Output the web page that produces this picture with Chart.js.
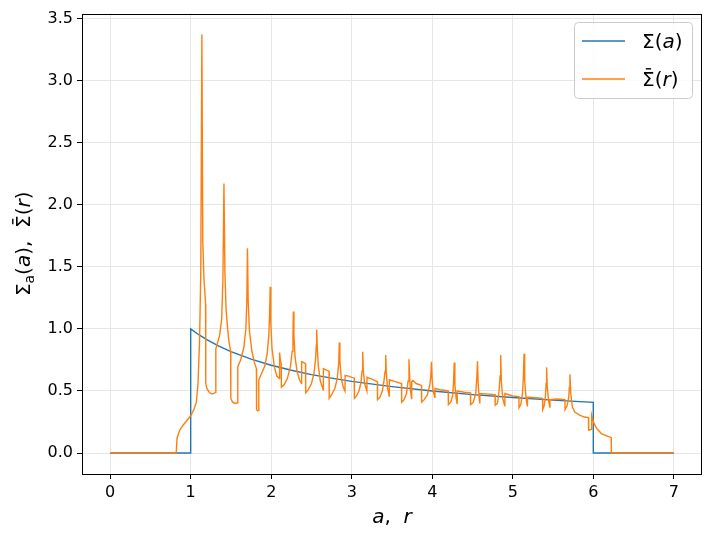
<!DOCTYPE html>
<html><head><meta charset="utf-8">
<script src="https://cdn.jsdelivr.net/npm/chart.js@4/dist/chart.umd.min.js"></script>
<style>html,body{margin:0;padding:0;background:#fff;}</style>
</head><body>
<canvas id="c" width="712" height="537"></canvas>
<script>
// ---- data ----
const xTicks = [0, 1, 2, 3, 4, 5, 6, 7];
const yTicks = [0, 0.5, 1, 1.5, 2, 2.5, 3, 3.5];

// Sigma(a)
const aValues = [0, 1, 1, 1.1, 1.2, 1.35, 1.5, 1.75, 2, 2.25, 2.5, 2.75, 3, 3.5, 4, 4.5, 5, 5.5, 6, 6, 7];
const sigmaA  = [0, 0, 1.0, 0.953, 0.913, 0.861, 0.816, 0.756, 0.707, 0.667, 0.632, 0.603, 0.577, 0.535, 0.5, 0.471, 0.447, 0.426, 0.408, 0, 0];

// Sigma-bar(r): [r, value]
const sigmaBarPoints = [
  [0,0],[0.82,0],[0.83,0.12],[0.86,0.18],[0.90,0.22],[0.95,0.26],[1.00,0.30],[1.04,0.35],[1.07,0.41],
  [1.09,0.55],[1.11,0.9],[1.125,1.45],[1.139,3.37],[1.15,1.7],[1.165,1.4],[1.185,1.2],
  [1.187,0.56],[1.20,0.52],[1.23,0.49],[1.26,0.475],[1.29,0.48],[1.31,0.49],[1.312,0.84],[1.33,0.88],[1.36,0.95],
  [1.385,1.08],[1.40,1.4],[1.413,2.17],[1.425,1.45],[1.44,1.15],[1.46,0.99],[1.475,0.9],[1.496,0.82],
  [1.498,0.44],[1.52,0.41],[1.55,0.40],[1.583,0.405],[1.585,0.695],[1.62,0.75],[1.66,0.85],[1.685,1.0],[1.697,1.22],
  [1.705,1.65],[1.714,1.22],[1.73,0.98],[1.76,0.82],[1.79,0.73],[1.816,0.68],[1.818,0.35],[1.83,0.34],[1.844,0.345],
  [1.846,0.59],[1.88,0.64],[1.92,0.70],[1.95,0.80],[1.97,0.95],[1.98,1.12],[1.987,1.34],[1.995,1.05],[2.01,0.84],
  [2.04,0.69],[2.07,0.62],[2.102,0.60],[2.104,0.81],[2.115,0.74],[2.124,0.72],[2.126,0.53],[2.16,0.55],[2.20,0.60],
  [2.24,0.70],[2.26,0.82],[2.27,0.95],[2.275,1.14],[2.282,0.95],[2.295,0.78],[2.32,0.66],[2.35,0.59],[2.376,0.56],
  [2.378,0.735],[2.40,0.73],[2.426,0.72],[2.428,0.485],[2.46,0.51],[2.50,0.56],[2.53,0.64],[2.55,0.75],[2.56,0.87],
  [2.565,0.995],[2.572,0.85],[2.585,0.70],[2.61,0.58],[2.646,0.51],[2.648,0.68],[2.68,0.67],[2.718,0.66],[2.72,0.44],
  [2.75,0.47],[2.79,0.52],[2.82,0.60],[2.838,0.72],[2.846,0.89],[2.853,0.74],[2.87,0.60],[2.895,0.53],[2.916,0.50],
  [2.918,0.625],[2.96,0.62],[3.0,0.61],[3.031,0.605],[3.033,0.44],[3.06,0.46],[3.09,0.50],[3.115,0.57],[3.128,0.66],
  [3.136,0.815],[3.143,0.67],[3.16,0.56],[3.188,0.50],[3.19,0.61],[3.25,0.595],[3.318,0.575],[3.32,0.43],[3.35,0.45],
  [3.38,0.50],[3.40,0.58],[3.414,0.66],[3.422,0.79],[3.43,0.64],[3.445,0.52],[3.465,0.46],[3.467,0.59],[3.54,0.575],
  [3.618,0.56],[3.62,0.41],[3.65,0.43],[3.68,0.48],[3.70,0.58],[3.711,0.755],[3.72,0.60],[3.73,0.50],[3.743,0.44],
  [3.745,0.575],[3.76,0.585],[3.80,0.56],[3.866,0.545],[3.868,0.41],[3.90,0.43],[3.94,0.47],[3.97,0.55],[3.982,0.62],
  [3.99,0.735],[3.998,0.60],[4.01,0.50],[4.032,0.45],[4.034,0.52],[4.10,0.51],[4.198,0.50],[4.20,0.39],[4.23,0.41],
  [4.255,0.47],[4.265,0.58],[4.273,0.73],[4.281,0.55],[4.295,0.45],[4.308,0.40],[4.31,0.50],[4.40,0.49],[4.474,0.485],
  [4.476,0.39],[4.51,0.41],[4.54,0.48],[4.553,0.60],[4.562,0.74],[4.57,0.56],[4.583,0.44],[4.59,0.40],[4.592,0.48],
  [4.70,0.475],[4.78,0.47],[4.782,0.385],[4.81,0.40],[4.83,0.50],[4.842,0.62],[4.85,0.79],[4.858,0.58],[4.875,0.44],
  [4.90,0.38],[4.902,0.48],[5.00,0.46],[5.076,0.455],[5.078,0.365],[5.10,0.39],[5.12,0.48],[5.132,0.62],[5.14,0.80],
  [5.148,0.58],[5.165,0.44],[5.18,0.38],[5.182,0.45],[5.30,0.445],[5.37,0.44],[5.372,0.35],[5.39,0.38],[5.405,0.45],
  [5.414,0.56],[5.42,0.69],[5.428,0.53],[5.445,0.42],[5.46,0.37],[5.462,0.43],[5.55,0.435],[5.647,0.43],[5.649,0.35],
  [5.675,0.38],[5.695,0.45],[5.703,0.53],[5.71,0.635],[5.72,0.48],[5.74,0.37],[5.77,0.33],[5.83,0.305],[5.89,0.29],
  [5.94,0.285],[5.942,0.185],[5.978,0.19],[5.98,0.305],[6.005,0.245],[6.04,0.20],[6.10,0.157],[6.18,0.135],
  [6.222,0.126],[6.224,0],[7,0]
];

// text (bar: true draws a macron over the glyph)
const legendRuns = [
  [{t:'Σ', s:'normal'}, {t:'(', s:'normal'}, {t:'a', s:'italic'}, {t:')', s:'normal'}],
  [{t:'Σ', s:'normal', bar:true}, {t:'(', s:'normal'}, {t:'r', s:'italic'}, {t:')', s:'normal'}]
];
const xTitleRuns = [{t:'a', s:'italic'}, {t:',  ', s:'normal'}, {t:'r', s:'italic'}];
const yTitleRuns = [{t:'Σ', s:'normal'}, {t:'a', s:'normal', sub:true}, {t:'(', s:'normal'}, {t:'a', s:'italic'},
                    {t:'),  ', s:'normal'}, {t:'Σ', s:'normal', bar:true}, {t:'(', s:'normal'}, {t:'r', s:'italic'}, {t:')', s:'normal'}];

const COLORS = ['#1f77b4', '#ff7f0e'];
const FONT = 'DejaVu Sans';

function runFont(r, size) {
  const sz = r.sub ? size * 0.7 : size;
  return (r.s === 'italic' ? 'italic ' : '') + sz + 'px "' + FONT + '"';
}
function runsWidth(ctx, runs, size) {
  let w = 0;
  for (const r of runs) { ctx.font = runFont(r, size); w += ctx.measureText(r.t).width; }
  return w;
}
// y is the alphabetic baseline
function drawRuns(ctx, runs, x, y, size) {
  let cx = x;
  ctx.textBaseline = 'alphabetic';
  for (const r of runs) {
    ctx.font = runFont(r, size);
    const w = ctx.measureText(r.t).width;
    ctx.fillText(r.t, cx, y + (r.sub ? size * 0.2 : 0));
    if (r.bar) {
      ctx.save();
      ctx.strokeStyle = ctx.fillStyle; ctx.lineWidth = size * 0.07;
      const by = y - size * 0.86;
      ctx.beginPath(); ctx.moveTo(cx + w * 0.3, by); ctx.lineTo(cx + w * 0.72, by); ctx.stroke();
      ctx.restore();
    }
    cx += w;
  }
}

const decorPlugin = {
  id: 'decor',
  afterDraw(chart) {
    const ctx = chart.ctx, a = chart.chartArea;
    ctx.save();
    // frame
    ctx.strokeStyle = '#000'; ctx.lineWidth = 1;
    ctx.strokeRect(Math.round(a.left) + 0.5, Math.round(a.top) + 0.5, Math.round(a.right - a.left) - 1, Math.round(a.bottom - a.top));
    ctx.fillStyle = '#000';
    // x title
    const xs = 20;
    const xw = runsWidth(ctx, xTitleRuns, xs);
    drawRuns(ctx, xTitleRuns, (a.left + a.right) / 2 - xw / 2, 523, xs);
    // y title
    const ys = 20;
    const yw = runsWidth(ctx, yTitleRuns, ys);
    ctx.save();
    ctx.translate(30, (a.top + a.bottom) / 2);
    ctx.rotate(-Math.PI / 2);
    drawRuns(ctx, yTitleRuns, -yw / 2, 0, ys);
    ctx.restore();
    // legend
    const lx = 574.5, ly = 22.5, lw = 118, lh = 76, rad = 4;
    ctx.beginPath();
    ctx.roundRect(lx, ly, lw, lh, rad);
    ctx.fillStyle = 'rgba(255,255,255,0.8)';
    ctx.fill();
    ctx.strokeStyle = '#cccccc'; ctx.lineWidth = 1;
    ctx.stroke();
    const rowsY = [41, 79];
    for (let i = 0; i < 2; i++) {
      ctx.strokeStyle = COLORS[i]; ctx.lineWidth = 1.4;
      ctx.beginPath(); ctx.moveTo(582, rowsY[i]); ctx.lineTo(625, rowsY[i]); ctx.stroke();
      ctx.fillStyle = '#000';
      drawRuns(ctx, legendRuns[i], 642, rowsY[i] + 7, 20);
    }
    ctx.restore();
  }
};

const tickFont = {family: FONT, size: 16};

new Chart(document.getElementById('c').getContext('2d'), {
  type: 'line',
  data: {
    datasets: [
      {label: 'Sigma(a)', data: aValues.map((x, i) => ({x: x, y: sigmaA[i]})),
       borderColor: COLORS[0], borderWidth: 1.4, pointRadius: 0, tension: 0, order: 2},
      {label: 'SigmaBar(r)', data: sigmaBarPoints.map(p => ({x: p[0], y: p[1]})),
       borderColor: COLORS[1], borderWidth: 1.4, pointRadius: 0, tension: 0, order: 1}
    ]
  },
  options: {
    responsive: false, animation: false, devicePixelRatio: 1,
    layout: {padding: {left: 0, right: 10, top: 13, bottom: 0}},
    plugins: {legend: {display: false}, tooltip: {enabled: false}},
    scales: {
      x: {
        type: 'linear', min: -0.35, max: 7.35,
        afterBuildTicks: s => { s.ticks = xTicks.map(v => ({value: v})); },
        afterFit: s => { s.height = 63; },
        ticks: {font: tickFont, color: '#000', padding: 4, maxRotation: 0, autoSkip: false, callback: v => String(v)},
        grid: {color: '#e6e6e6', lineWidth: 1, tickColor: '#000', tickLength: 5, drawTicks: true},
        border: {display: false}
      },
      y: {
        type: 'linear', min: -0.1685, max: 3.5385,
        afterBuildTicks: s => { s.ticks = yTicks.map(v => ({value: v})); },
        afterFit: s => { s.width = 82; },
        ticks: {font: tickFont, color: '#000', padding: 4, autoSkip: false, callback: v => v.toFixed(1)},
        grid: {color: '#e6e6e6', lineWidth: 1, tickColor: '#000', tickLength: 5, drawTicks: true},
        border: {display: false}
      }
    }
  },
  plugins: [decorPlugin]
});
</script>
</body></html>
